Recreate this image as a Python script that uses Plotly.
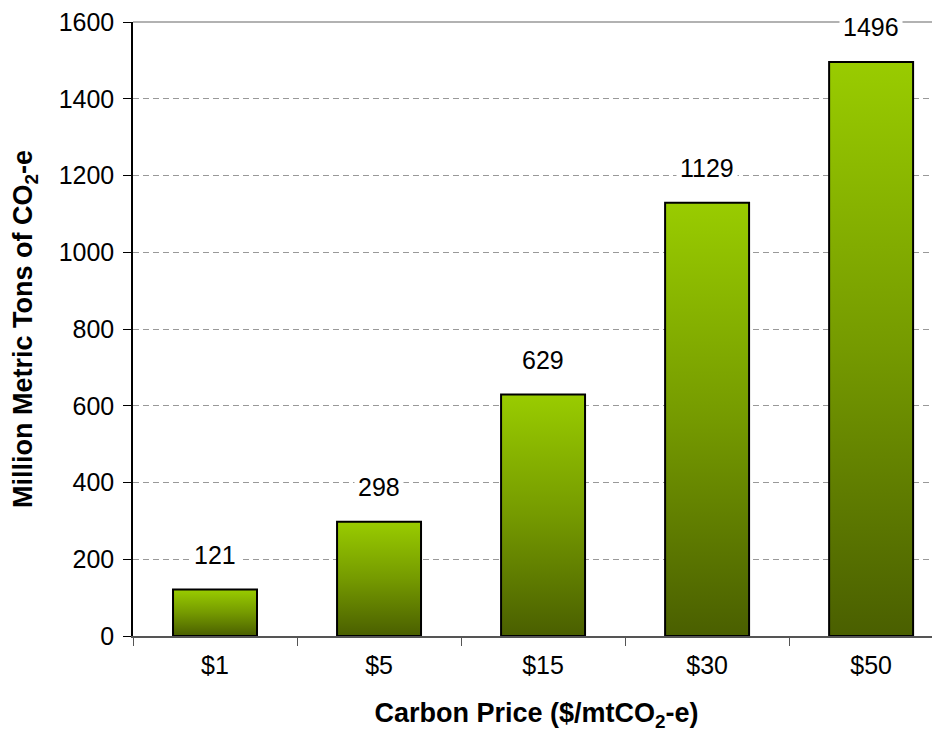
import plotly.graph_objects as go

categories = ["$1", "$5", "$15", "$30", "$50"]
values = [121, 298, 629, 1129, 1496]
y_ticks = [0, 200, 400, 600, 800, 1000, 1200, 1400, 1600]

FONT = "Liberation Sans, Arial, sans-serif"
half_w = 0.256

fig = go.Figure()
for i, v in enumerate(values):
    fig.add_trace(go.Scatter(
        x=[i - half_w, i - half_w, i + half_w, i + half_w, i - half_w],
        y=[0, v, v, 0, 0],
        mode="lines",
        fill="toself",
        fillgradient=dict(type="vertical",
                          colorscale=[[0, "#4A5F00"], [0.5, "#759A00"], [1, "#99CC00"]]),
        line=dict(color="#000000", width=2),
        hoverinfo="skip",
        showlegend=False,
    ))

for i, v in enumerate(values):
    fig.add_annotation(x=i, y=v, text=str(v), showarrow=False, yshift=35,
                       bgcolor="white", borderpad=3,
                       font=dict(family=FONT, size=25, color="#000"))

# dummy trace for the label axis
fig.add_trace(go.Scatter(x=[0], y=[0], xaxis="x2", mode="markers",
                         marker=dict(opacity=0), showlegend=False, hoverinfo="skip"))

# top border line of the plot area (at the top of the value axis)
fig.add_shape(type="line", xref="paper", yref="paper", x0=0, x1=1, y0=1, y1=1,
              line=dict(color="#666", width=1.2), layer="above")

xr = [-0.5, 4.42]
fig.update_layout(
    width=932, height=724,
    margin=dict(l=125, r=0, t=12, b=96),
    paper_bgcolor="white", plot_bgcolor="white",
    font=dict(family=FONT, size=25, color="#000"),
    xaxis=dict(range=xr, tickvals=[-0.5, 0.5, 1.5, 2.5, 3.5],
               ticktext=["", "", "", "", ""], ticks="outside", ticklen=8,
               tickcolor="#555", showgrid=False, zeroline=False,
               showline=True, linecolor="#555", linewidth=1.5,
               title=dict(text="<b>Carbon Price ($/mtCO<sub>2</sub>-e)</b>",
                          font=dict(size=27), standoff=56)),
    xaxis2=dict(range=xr, overlaying="x", side="bottom", tickvals=list(range(len(categories))),
                ticktext=categories, ticks="", showgrid=False, zeroline=False,
                showline=False, tickfont=dict(size=25), ticklabelstandoff=12),
    yaxis=dict(range=[0, 1600], tickvals=y_ticks, ticks="outside", ticklen=8,
               tickcolor="#000", showline=True, linecolor="#000", linewidth=1.5,
               showgrid=True, gridcolor="#999", griddash="6px,4px", gridwidth=1,
               zeroline=False, tickfont=dict(size=25), ticklabelstandoff=4,
               ticklabeloverflow="allow",
               title=dict(text="<b>Million Metric Tons of CO<sub>2</sub>-e</b>",
                          font=dict(size=27), standoff=20)),
)

fig.write_html("out.html")
